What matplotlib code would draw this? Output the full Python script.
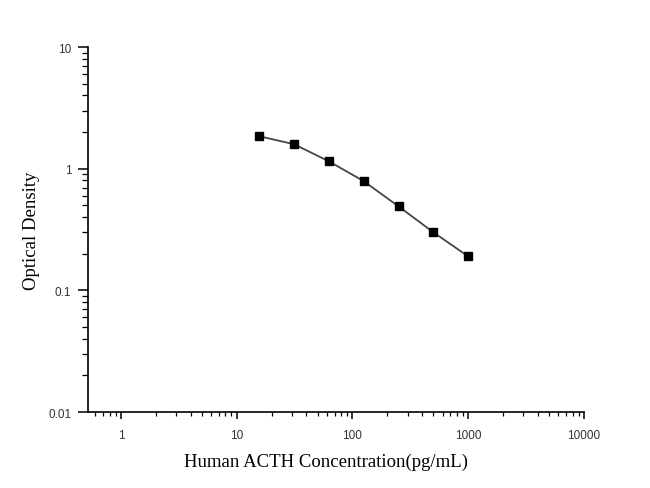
import numpy as np
import matplotlib
matplotlib.use("Agg")
import matplotlib.pyplot as plt
from matplotlib.ticker import LogLocator, FixedLocator, FixedFormatter

# standard curve data
conc = [15.6, 31.25, 62.5, 125, 250, 500, 1000]
od = [1.85, 1.59, 1.15, 0.79, 0.49, 0.30, 0.19]

x_ticks = [1, 10, 100, 1000, 10000]
x_labels = ["1", "10", "100", "1000", "10000"]
y_ticks = [0.01, 0.1, 1, 10]
y_labels = ["0.01", "0.1", "1", "10"]

fig = plt.figure(figsize=(6.5, 4.89), dpi=100)
ax = fig.add_axes([0.1354, 0.1554, 0.7631, 0.7464])

ax.plot(conc, od, color="#444444", lw=1.3, marker="s", ms=5.5,
        mfc="black", mec="black")

ax.set_xscale("log")
ax.set_yscale("log")
ax.set_xlim(0.52, 10000)
ax.set_ylim(0.01, 10)

ax.xaxis.set_major_locator(FixedLocator(x_ticks))
ax.xaxis.set_major_formatter(FixedFormatter(x_labels))
ax.yaxis.set_major_locator(FixedLocator(y_ticks))
ax.yaxis.set_major_formatter(FixedFormatter(y_labels))
ax.xaxis.set_minor_locator(LogLocator(base=10, subs=np.arange(2, 10)))
ax.yaxis.set_minor_locator(LogLocator(base=10, subs=np.arange(2, 10)))
ax.xaxis.set_minor_formatter(plt.NullFormatter())
ax.yaxis.set_minor_formatter(plt.NullFormatter())

for s in ["top", "right"]:
    ax.spines[s].set_visible(False)
for s in ["left", "bottom"]:
    ax.spines[s].set_linewidth(1.2)

ax.tick_params(axis="y", which="major", direction="out", length=7, width=1.1, pad=5)
ax.tick_params(axis="y", which="minor", direction="out", length=4, width=0.9)
ax.tick_params(axis="x", which="major", direction="out", length=5, width=1.1, pad=7)
ax.tick_params(axis="x", which="minor", direction="out", length=3, width=0.9)
for lab in ax.get_xticklabels() + ax.get_yticklabels():
    lab.set_fontfamily("Liberation Sans")
    lab.set_fontsize(8.5)
    lab.set_color("#333333")

ax.set_xlabel("Human ACTH Concentration(pg/mL)", fontfamily="Liberation Serif",
              fontsize=13.5, labelpad=9, x=0.48)
ax.set_ylabel("Optical Density", fontfamily="Liberation Serif",
              fontsize=13.5, labelpad=6)

fig.savefig("out.png", dpi=100)
